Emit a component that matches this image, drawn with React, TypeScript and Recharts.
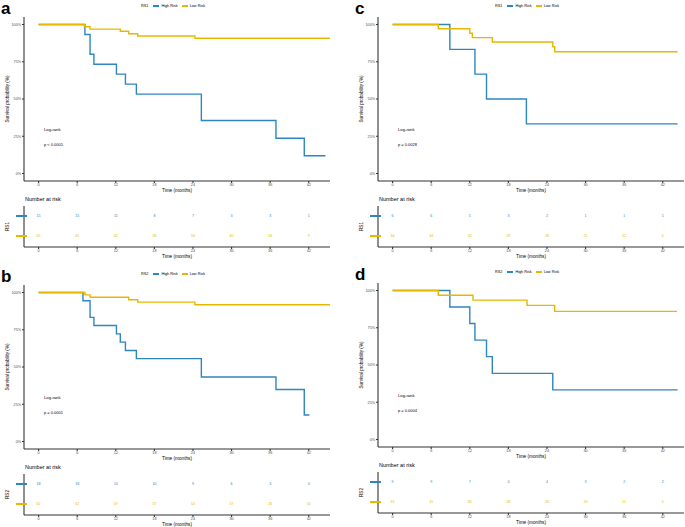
import { Line, LineChart, Scatter, ScatterChart, XAxis, YAxis } from 'recharts'

const HIGH = '#2E86C1'
const LOW = '#E7B800'
const FONT = '"Liberation Sans", Arial, sans-serif'

const timeTicks = [0, 6, 12, 18, 24, 30, 36, 42]
const survTicks = [0, 25, 50, 75, 100]

// a: RS1
const aHighTime = [0, 7.2, 8.0, 8.6, 12.1, 13.5, 15.2, 25.3, 36.9, 41.3, 44.6]
const aHighSurv = [100, 93.3, 80.0, 73.3, 66.7, 60.0, 53.3, 35.6, 23.7, 11.9, 11.9]
const aLowTime = [0, 7.1, 8.0, 12.7, 14.0, 15.4, 24.3, 45.3]
const aLowSurv = [100, 98.5, 96.9, 95.4, 93.8, 92.3, 90.7, 90.7]
const aRiskHigh = [15, 15, 11, 8, 7, 3, 3, 1]
const aRiskLow = [65, 65, 62, 58, 56, 40, 26, 9]

// b: RS2
const bHighTime = [0, 6.9, 8.0, 8.6, 12.1, 12.7, 13.5, 15.2, 25.3, 36.9, 41.3, 42.1]
const bHighSurv = [100, 94.4, 83.3, 77.8, 72.2, 66.7, 61.1, 55.6, 43.3, 34.9, 17.8, 17.8]
const bLowTime = [0, 7.2, 8.0, 14.0, 15.4, 24.3, 45.3]
const bLowSurv = [100, 98.4, 96.8, 95.1, 93.5, 91.8, 91.8]
const bRiskHigh = [18, 18, 14, 10, 9, 6, 3, 0]
const bRiskLow = [62, 62, 59, 57, 54, 37, 26, 10]

// c: RS1
const cHighTime = [0, 8.9, 12.8, 14.6, 20.8, 44.3]
const cHighSurv = [100, 83.3, 66.7, 50.0, 33.3, 33.3]
const cLowTime = [0, 7.1, 12.0, 12.4, 15.5, 24.9, 25.2, 44.3]
const cLowSurv = [100, 97.1, 94.1, 91.2, 88.2, 85.0, 81.7, 81.7]
const cRiskHigh = [6, 6, 5, 3, 2, 1, 1, 1]
const cRiskLow = [34, 34, 32, 29, 28, 21, 12, 6]

// d: RS2
const dHighTime = [0, 8.9, 12.0, 12.8, 14.6, 15.5, 24.9, 44.3]
const dHighSurv = [100, 88.9, 77.8, 66.7, 55.6, 44.4, 33.3, 33.3]
const dLowTime = [0, 7.1, 12.5, 20.9, 25.2, 44.2]
const dLowSurv = [100, 96.8, 93.5, 90.0, 86.0, 86.0]
const dRiskHigh = [9, 9, 7, 4, 4, 3, 2, 2]
const dRiskLow = [31, 31, 30, 28, 26, 19, 11, 5]

const axisProps = {
  stroke: '#333',
  strokeWidth: 1.1,
  tick: { fontSize: 3.8, fill: '#4d4d4d', fontFamily: FONT },
  tickSize: 2,
  tickMargin: 0.8,
  interval: 0 as const,
}

const toSeries = (t: number[], s: number[]) => t.map((x, i) => ({ t: x, s: s[i] }))

type PanelProps = {
  letter: string
  group: string
  pText: string
  left: number
  top: number
  high: { t: number; s: number }[]
  low: { t: number; s: number }[]
  riskHigh: number[]
  riskLow: number[]
}

function RiskText(props: any) {
  const { cx, cy, payload } = props
  return (
    <text
      x={cx}
      y={cy}
      textAnchor='middle'
      dominantBaseline='central'
      fontSize={3.6}
      fontFamily={FONT}
      fill={payload.row === 2 ? HIGH : LOW}
    >
      {payload.n}
    </text>
  )
}

function RowTick(props: any) {
  const { x, y, payload } = props
  return (
    <line
      x1={x - 8}
      x2={x + 3}
      y1={y}
      y2={y}
      stroke={payload.value === 2 ? HIGH : LOW}
      strokeWidth={2}
    />
  )
}

function Panel({ letter, group, pText, left, top, high, low, riskHigh, riskLow }: PanelProps) {
  const riskHighData = timeTicks.map((t, i) => ({ t, row: 2, n: riskHigh[i] }))
  const riskLowData = timeTicks.map((t, i) => ({ t, row: 1, n: riskLow[i] }))

  return (
    <div style={{ position: 'absolute', left, top, width: 340, height: 262, fontFamily: FONT }}>
      <div
        style={{
          position: 'absolute',
          left: 1,
          top: 0,
          fontSize: 17,
          lineHeight: '17px',
          fontWeight: 'bold',
        }}
      >
        {letter}
      </div>
      <div
        style={{
          position: 'absolute',
          left: 141,
          top: 3,
          display: 'flex',
          alignItems: 'center',
          fontSize: 3.8,
          lineHeight: '6px',
          whiteSpace: 'nowrap',
        }}
      >
        <span style={{ marginRight: 5 }}>{group}</span>
        <span style={{ width: 6, height: 1.3, background: HIGH, marginRight: 2 }} />
        <span style={{ marginRight: 4 }}>High Risk</span>
        <span style={{ width: 6, height: 1.3, background: LOW, marginRight: 2 }} />
        <span>Low Risk</span>
      </div>
      <div style={{ position: 'absolute', left: 0, top: 0 }}>
        <LineChart width={340} height={195} margin={{ top: 17, right: 10, bottom: 0, left: 0 }}>
          <XAxis
            type='number'
            dataKey='t'
            domain={[-2.27, 45.3]}
            ticks={timeTicks}
            allowDataOverflow
            height={14}
            {...axisProps}
            label={{ value: 'Time (months)', position: 'insideBottom', offset: 3, fontSize: 4.7, fill: '#000' }}
          />
          <YAxis
            type='number'
            domain={[-5, 105]}
            ticks={survTicks}
            allowDataOverflow
            width={24}
            tickFormatter={(v) => `${v}%`}
            {...axisProps}
            label={{
              value: 'Survival probability (%)',
              angle: -90,
              position: 'insideLeft',
              offset: 7.5,
              fontSize: 4.6,
              fill: '#000',
              style: { textAnchor: 'middle' },
            }}
          />
          <Line data={high} dataKey='s' type='stepAfter' stroke={HIGH} strokeWidth={1.4} dot={false} isAnimationActive={false} />
          <Line data={low} dataKey='s' type='stepAfter' stroke={LOW} strokeWidth={1.4} dot={false} isAnimationActive={false} />
        </LineChart>
      </div>
      <div style={{ position: 'absolute', left: 44, top: 127, fontSize: 4.2, lineHeight: '5px' }}>Log-rank</div>
      <div style={{ position: 'absolute', left: 44, top: 142, fontSize: 4.0, lineHeight: '5px' }}>{pText}</div>
      <div style={{ position: 'absolute', left: 25, top: 196, fontSize: 5.5, lineHeight: '7px' }}>Number at risk</div>
      <div style={{ position: 'absolute', left: 0, top: 200 }}>
        <ScatterChart width={340} height={62} margin={{ top: 6, right: 10, bottom: 0, left: 0 }}>
          <XAxis
            type='number'
            dataKey='t'
            domain={[-2.27, 45.3]}
            ticks={timeTicks}
            allowDataOverflow
            height={15}
            {...axisProps}
            label={{ value: 'Time (months)', position: 'insideBottom', offset: 4, fontSize: 4.7, fill: '#000' }}
          />
          <YAxis
            type='number'
            dataKey='row'
            domain={[0.45, 2.5]}
            ticks={[1, 2]}
            interval={0}
            allowDataOverflow
            width={24}
            stroke='#333'
            strokeWidth={1.1}
            tickLine={false}
            tickSize={0}
            tickMargin={0}
            tick={<RowTick />}
            label={{
              value: group,
              angle: -90,
              position: 'insideLeft',
              offset: 7.5,
              fontSize: 4.6,
              fill: '#000',
              style: { textAnchor: 'middle' },
            }}
          />
          <Scatter data={riskHighData} shape={<RiskText />} isAnimationActive={false} />
          <Scatter data={riskLowData} shape={<RiskText />} isAnimationActive={false} />
        </ScatterChart>
      </div>
    </div>
  )
}

export default function App() {
  return (
    <div style={{ position: 'absolute', left: 0, top: 0, width: 685, height: 527, background: '#fff' }}>
      <Panel
        letter='a'
        group='RS1'
        pText='p < 0.0001'
        left={0}
        top={0}
        high={toSeries(aHighTime, aHighSurv)}
        low={toSeries(aLowTime, aLowSurv)}
        riskHigh={aRiskHigh}
        riskLow={aRiskLow}
      />
      <Panel
        letter='c'
        group='RS1'
        pText='p = 0.0028'
        left={354}
        top={0}
        high={toSeries(cHighTime, cHighSurv)}
        low={toSeries(cLowTime, cLowSurv)}
        riskHigh={cRiskHigh}
        riskLow={cRiskLow}
      />
      <Panel
        letter='b'
        group='RS2'
        pText='p = 0.0001'
        left={0}
        top={268}
        high={toSeries(bHighTime, bHighSurv)}
        low={toSeries(bLowTime, bLowSurv)}
        riskHigh={bRiskHigh}
        riskLow={bRiskLow}
      />
      <Panel
        letter='d'
        group='RS2'
        pText='p = 0.0004'
        left={354}
        top={266}
        high={toSeries(dHighTime, dHighSurv)}
        low={toSeries(dLowTime, dLowSurv)}
        riskHigh={dRiskHigh}
        riskLow={dRiskLow}
      />
    </div>
  )
}
